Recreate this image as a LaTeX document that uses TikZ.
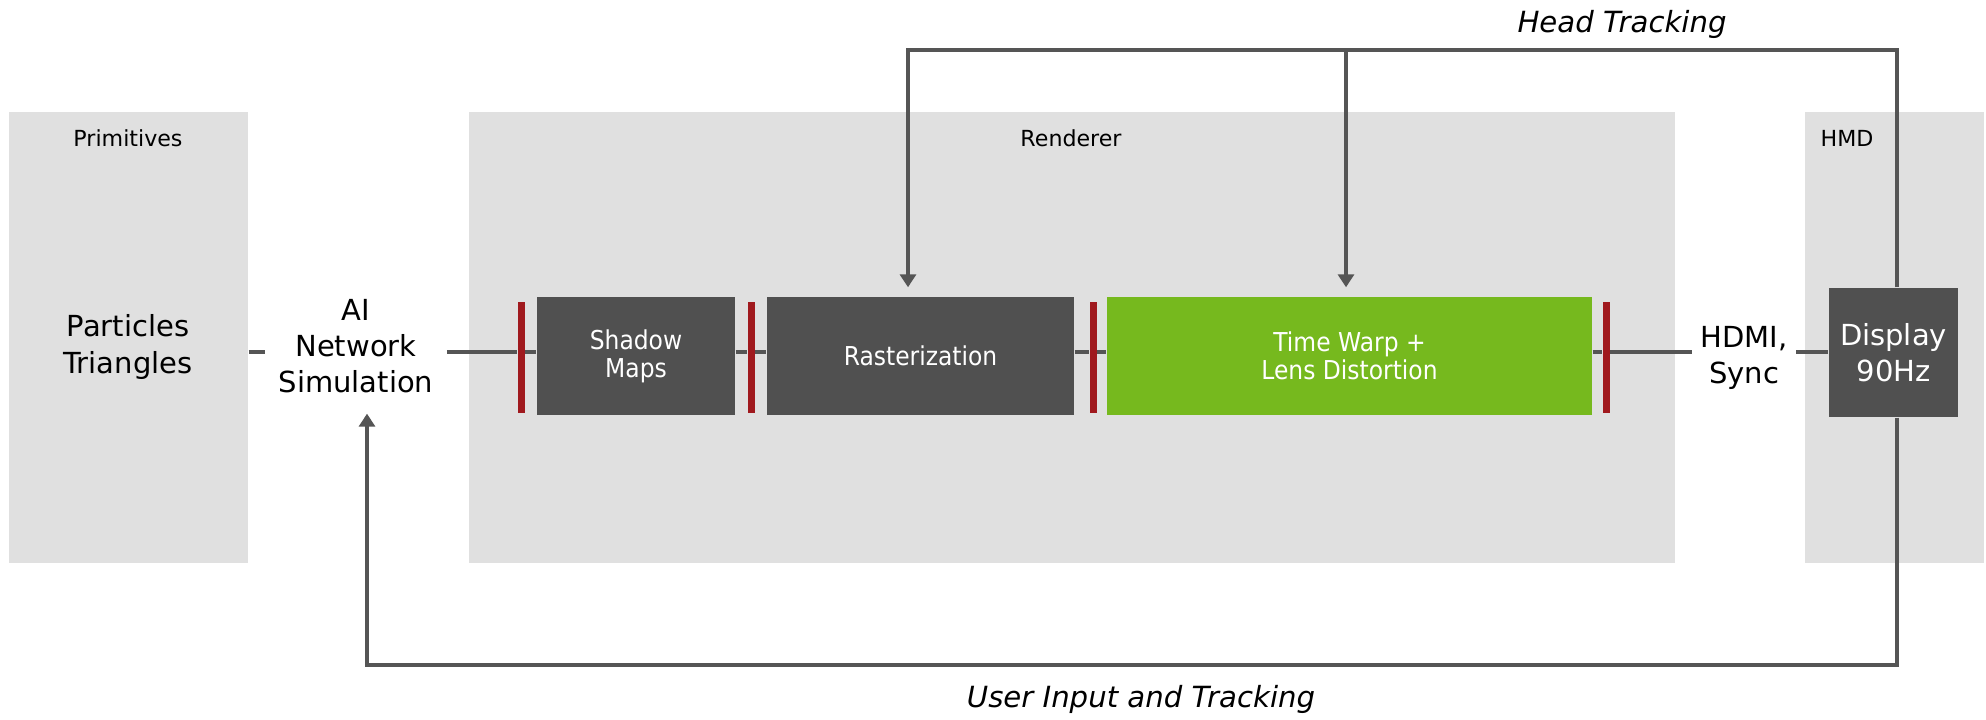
\documentclass[tikz,border=0pt]{standalone}
\usepackage{fontspec}
\setmainfont{DejaVu Sans}
\newfontfamily\boxfont[FakeStretch=0.9]{DejaVu Sans}
\usetikzlibrary{arrows.meta,positioning}
\definecolor{panelgray}{RGB}{224,224,224}
\definecolor{boxgray}{RGB}{80,80,80}
\definecolor{nvgreen}{RGB}{118,185,30}
\definecolor{latchred}{RGB}{160,25,30}
\definecolor{wiregray}{RGB}{85,85,85}

\begin{document}
\begin{tikzpicture}[>={Triangle[width=0.16cm,length=0.13cm]},
  panel/.style={rectangle,fill=panelgray,inner sep=0pt,minimum height=4.51cm},
  small/.style={font=\fontsize{6.3}{7.5}\selectfont,anchor=base,inner sep=0pt},
  big/.style={font=\fontsize{8.25}{10.3}\selectfont,align=center,inner sep=0pt},
  stage/.style={rectangle,fill=#1,text=white,align=center,inner sep=0pt,minimum height=1.18cm,font=\boxfont\fontsize{7.4}{8}\selectfont},
  latch/.style={rectangle,fill=latchred,inner sep=0pt,minimum width=0.07cm,minimum height=1.11cm},
  wire/.style={draw=wiregray,line width=1.2pt},
  note/.style={font=\itshape\fontsize{8.3}{10}\selectfont,anchor=base,inner sep=0pt}]
\useasboundingbox (0,0) rectangle (19.86,-7.2);

\node[panel,minimum width=2.39cm](prim) at (1.285,-3.375) {};
\node[panel,minimum width=12.06cm](rend) at (10.72,-3.375) {};
\node[panel,minimum width=1.79cm](hmd) at (18.945,-3.375) {};

\node[small](primlbl) at (1.28,-1.47) {Primitives};
\node[small](rendlbl) at (10.71,-1.47) {Renderer};
\node[small](hmdlbl) at (18.47,-1.47) {HMD};

\node[big](part) at (1.28,-3.47) {Particles\\Triangles};
\node[big,inner xsep=0.13cm](ai) at (3.56,-3.46) {AI\\Network\\Simulation};
\node[big,inner xsep=0.08cm](hdmi) at (17.44,-3.58) {HDMI,\\Sync};

\node[latch](b1) at (5.21,-3.575) {};
\node[stage=boxgray,minimum width=1.98cm](shadow) at (6.36,-3.56) {Shadow\\Maps};
\node[latch](b2) at (7.51,-3.575) {};
\node[stage=boxgray,minimum width=3.07cm](raster) at (9.205,-3.56) {Rasterization};
\node[latch](b3) at (10.93,-3.575) {};
\node[stage=nvgreen,minimum width=4.85cm](warp) at (13.495,-3.56) {Time Warp +\\Lens Distortion};
\node[latch](b4) at (16.06,-3.575) {};
\node[stage=boxgray,minimum width=1.29cm,minimum height=1.29cm,font=\fontsize{8.25}{10.3}\selectfont](disp) at (18.935,-3.525) {Display\\90Hz};

\coordinate (w) at (0,-3.52);
\coordinate (top) at (0,-0.50);
\coordinate (bot) at (3.67,-6.65);

\draw[wire] (prim.east |- w) -- (ai.west |- w);
\foreach \a/\b in {ai/b1,b1/shadow,shadow/b2,b2/raster,raster/b3,b3/warp,warp/b4,b4/hdmi,hdmi/disp}
  \draw[wire] (\a.east |- w) -- (\b.west |- w);

\draw[wire,->] ([xshift=0.035cm]disp.north) |- ([xshift=-0.125cm]raster.north |- top) -- ([xshift=-0.125cm,yshift=0.09cm]raster.north);
\draw[wire,->] ([xshift=-0.035cm]warp.north |- top) -- ([xshift=-0.035cm,yshift=0.09cm]warp.north);
\draw[wire,->] ([xshift=0.035cm]disp.south) |- (bot) -| ([xshift=0.11cm,yshift=-0.2cm]ai.south);

\node[note](htlbl) at (16.22,-0.33) {Head Tracking};
\node[note](uilbl) at (11.41,-7.08) {User Input and Tracking};
\end{tikzpicture}
\end{document}
